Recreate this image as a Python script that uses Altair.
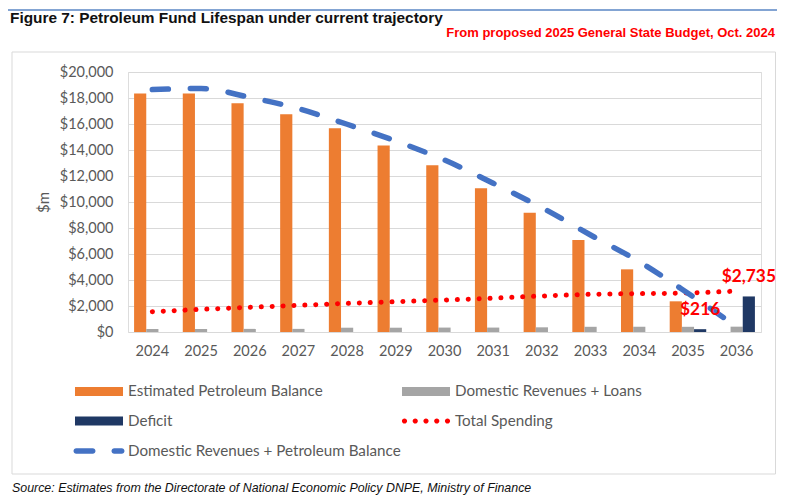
import altair as alt
import pandas as pd

years = [str(y) for y in range(2024, 2037)]
petroleum_balance = [18340, 18340, 17600, 16750, 15670, 14340, 12820, 11050, 9180, 7080, 4820, 2360, 0]
dom_rev_loans = [230, 230, 240, 240, 330, 330, 340, 340, 360, 400, 400, 400, 410]
deficit = [0, 0, 0, 0, 0, 0, 0, 0, 0, 0, 0, 216, 2735]
total_spending = [1560, 1740, 1900, 2050, 2200, 2330, 2460, 2600, 2770, 2900, 2950, 3000, 3150]
dom_rev_plus_pb = [18650, 18730, 18050, 17180, 15980, 14690, 13230, 11440, 9560, 7460, 5410, 2980, 410]

S_EPB = "Estimated Petroleum Balance"
S_DRL = "Domestic Revenues + Loans"
S_DEF = "Deficit"
S_TS = "Total Spending"
S_DRPB = "Domestic Revenues + Petroleum Balance"

ORANGE, GRAY, NAVY, RED, BLUE = "#ED7D31", "#A5A5A5", "#1F3864", "#FF0000", "#4472C4"
TXT = "#595959"
FONT = "Lato"

bar_rows = []
for i, y in enumerate(years):
    for s, v in ((S_EPB, petroleum_balance[i]), (S_DRL, dom_rev_loans[i]), (S_DEF, deficit[i])):
        bar_rows.append({"year": y, "series": s, "value": v})
bars_df = pd.DataFrame(bar_rows)
lines_df = pd.DataFrame({"year": years, "ts": total_spending, "drpb": dom_rev_plus_pb})

x_scale = alt.Scale(domain=years, paddingInner=0.25, paddingOuter=0.125, round=False)
y_scale = alt.Scale(domain=[0, 20000], nice=False)
off_scale = alt.Scale(domain=[S_EPB, S_DRL, S_DEF], paddingInner=0, paddingOuter=0)

x_enc = alt.X("year:N", scale=x_scale, sort=years,
              axis=alt.Axis(title=None, labelAngle=0, ticks=False, domain=False,
                            labelPadding=12, labelFont=FONT, labelFontSize=14.5,
                            labelColor=TXT, grid=False))
y_axis = alt.Axis(title="$m", values=list(range(0, 20001, 2000)), format="$,.0f",
                  ticks=False, domain=False, labelPadding=15, labelFont=FONT,
                  labelFontSize=14.5, labelColor=TXT, gridColor="#D9D9D9",
                  labelOverlap=False, labelFlush=False,
                  titleFont=FONT, titleFontSize=15, titleColor=TXT,
                  titleFontWeight="normal", titlePadding=8)

bars = alt.Chart(bars_df).transform_filter("datum.value > 0").mark_bar().encode(
    x=x_enc,
    xOffset=alt.XOffset("series:N", scale=off_scale, sort=[S_EPB, S_DRL, S_DEF]),
    y=alt.Y("value:Q", scale=y_scale, axis=y_axis),
    fill=alt.Fill("series:N", scale=alt.Scale(domain=[S_EPB, S_DRL, S_DEF],
                                               range=[ORANGE, GRAY, NAVY]), legend=None),
)

ts_line = alt.Chart(lines_df).mark_line(
    color=RED, strokeWidth=5, strokeDash=[0.1, 10.8], strokeCap="round",
    interpolate="monotone").encode(x=x_enc, y=alt.Y("ts:Q", scale=y_scale, axis=y_axis))

drpb_line = alt.Chart(lines_df).mark_line(
    color=BLUE, strokeWidth=5.5, strokeDash=[16, 22], strokeCap="round",
    interpolate="monotone").encode(x=x_enc, y=alt.Y("drpb:Q", scale=y_scale, axis=y_axis))

labels = alt.Chart(bars_df).transform_filter(
    f"datum.series == '{S_DEF}' && datum.value > 0"
).mark_text(color=RED, font=FONT, fontSize=17.3, fontWeight="bold", baseline="middle",
            dy=-19).encode(
    x=x_enc,
    xOffset=alt.XOffset("series:N", scale=off_scale, sort=[S_EPB, S_DRL, S_DEF]),
    y=alt.Y("value:Q", scale=y_scale, axis=y_axis),
    text=alt.Text("value:Q", format="$,.0f"),
)

# legend symbol shapes (unit = 21 px, symbols drawn ~48 px wide)
RECT = "M-1.143,-0.214L1.143,-0.214L1.143,0.214L-1.143,0.214Z"
def dots():
    r = 0.124
    p = ""
    for cx in (-1.024, -0.512, 0.0, 0.512, 1.024):
        p += f"M{cx - r:.3f},0A{r},{r} 0 1,0 {cx + r:.3f},0A{r},{r} 0 1,0 {cx - r:.3f},0Z"
    return p
def dash(xa, xb, r=0.131):
    return (f"M{xa + r:.3f},{-r}L{xb - r:.3f},{-r}A{r},{r} 0 0,1 {xb - r:.3f},{r}"
            f"L{xa + r:.3f},{r}A{r},{r} 0 0,1 {xa + r:.3f},{-r}Z")
DASHES = dash(-1.214, -0.167) + dash(0.595, 1.214)

SYM = 441 * 4  # 42 px nominal box
leg_common = dict(orient="none", title=None, labelFont=FONT, labelFontSize=15.2,
                  labelColor=TXT, symbolSize=SYM, symbolStrokeWidth=0,
                  labelOffset=8, labelLimit=400)

# column-major fill: col1 = EPB, Deficit ; col2 = DRL, Total Spending
legA_dom = [S_EPB, S_DEF, S_DRL, S_TS]
legA_kw = dict(columns=2, legendX=-50, legendY=298, columnPadding=78, rowPadding=0, **leg_common)
legA = alt.Chart(pd.DataFrame({"series": legA_dom})).transform_filter("false").mark_point(
    filled=True, size=SYM, opacity=1).encode(
    color=alt.Color("series:N", scale=alt.Scale(domain=legA_dom, range=[ORANGE, NAVY, GRAY, RED]),
                    legend=alt.Legend(**legA_kw)),
    shape=alt.Shape("series:N", scale=alt.Scale(domain=legA_dom, range=[RECT, RECT, RECT, dots()]),
                    legend=alt.Legend(**legA_kw)),
)
legB_kw = dict(legendX=-50, legendY=358, **leg_common)
legB = alt.Chart(pd.DataFrame({"series": [S_DRPB]})).transform_filter("false").mark_point(
    filled=True, size=SYM, opacity=1).encode(
    color=alt.Color("series:N", scale=alt.Scale(domain=[S_DRPB], range=[BLUE]),
                    legend=alt.Legend(**legB_kw)),
    shape=alt.Shape("series:N", scale=alt.Scale(domain=[S_DRPB], range=[DASHES]),
                    legend=alt.Legend(**legB_kw)),
)

one = alt.Data(values=[{"k": 1}])
outer_frame = alt.Chart(one).mark_rect(fill=None, stroke="#5B86C5", strokeWidth=1.5).encode(
    x=alt.value(-121.5), x2=alt.value(700), y=alt.value(-62), y2=alt.value(440))
inner_frame = alt.Chart(one).mark_rect(fill=None, stroke="#D9D9D9", strokeWidth=1).encode(
    x=alt.value(-116), x2=alt.value(647.5), y=alt.value(-20), y2=alt.value(402))
title = alt.Chart(one).mark_text(align="left", baseline="middle", font="Liberation Sans",
                                 fontSize=15.4, fontWeight="bold", color="#111111").encode(
    x=alt.value(-118), y=alt.value(-54),
    text=alt.value("Figure 7: Petroleum Fund Lifespan under current trajectory"))
subtitle = alt.Chart(one).mark_text(align="right", baseline="middle", font="Liberation Sans",
                                    fontSize=13, fontWeight="bold", color=RED).encode(
    x=alt.value(647), y=alt.value(-39),
    text=alt.value("From proposed 2025 General State Budget, Oct. 2024"))
source = alt.Chart(one).mark_text(align="left", baseline="middle", font="Liberation Sans",
                                  fontSize=12.4, fontStyle="italic", color="#111111").encode(
    x=alt.value(-116), y=alt.value(416),
    text=alt.value("Source: Estimates from the Directorate of National Economic Policy DNPE, Ministry of Finance"))

chart = alt.layer(
    outer_frame, inner_frame, title, subtitle, source,
    bars, ts_line, drpb_line, labels, legA, legB,
).resolve_scale(color="independent", shape="independent").properties(
    width=633, height=260,
    autosize=alt.AutoSizeParams(type="none"),
    padding={"left": 120, "top": 64, "right": 16, "bottom": 163},
).configure_view(stroke=None).configure(background="white")

chart.save("out.html", embed_options={"renderer": "svg", "actions": False})
